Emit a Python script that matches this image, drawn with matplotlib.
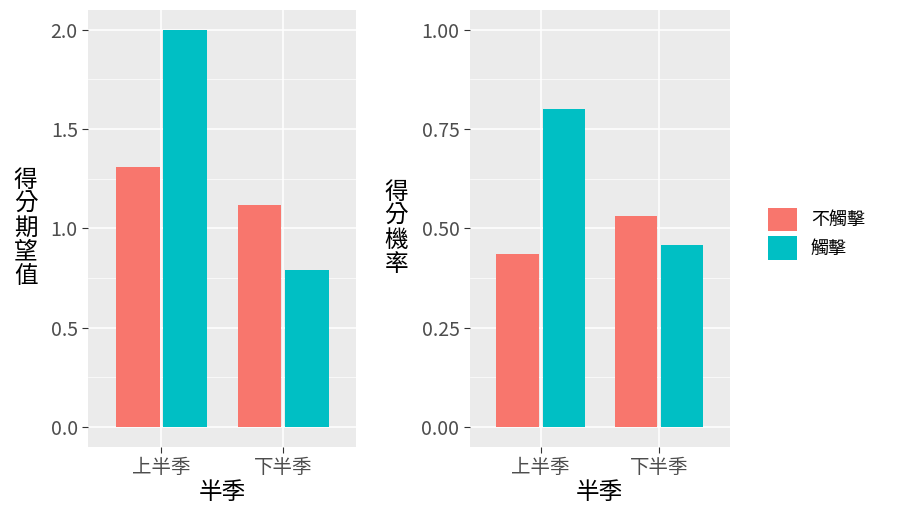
import matplotlib
matplotlib.use("Agg")
import matplotlib.pyplot as plt
import numpy as np

plt.rcParams['font.family'] = ['Noto Sans CJK TC', 'DejaVu Sans']

categories = ["上半季", "下半季"]
groups = ["不觸擊", "觸擊"]
expect_vals = {"不觸擊": [1.31, 1.12], "觸擊": [2.0, 0.79]}
prob_vals = {"不觸擊": [0.435, 0.53], "觸擊": [0.80, 0.457]}
colors = {"不觸擊": "#F8766D", "觸擊": "#00BFC4"}

fig = plt.figure(figsize=(9, 5.25), dpi=100)
ax1 = fig.add_axes([0.098, 0.149, 0.298, 0.832])
ax2 = fig.add_axes([0.522, 0.149, 0.289, 0.832])

def panel(ax, vals, ylim, ticks, fmt, ylabel):
    ax.set_facecolor("#EBEBEB")
    x = np.arange(1, len(categories) + 1)
    w = 0.36
    for i, g in enumerate(groups):
        ax.bar(x + (i - 0.5) * (w + 0.03), vals[g], width=w, color=colors[g],
               zorder=3, label=g)
    ax.set_xlim(0.4, 2.6)
    ax.set_ylim(*ylim)
    ax.set_xticks(x)
    ax.set_xticklabels(categories)
    ax.set_yticks(ticks)
    ax.set_yticklabels([fmt.format(t) for t in ticks])
    minor = [(a + b) / 2 for a, b in zip(ticks[:-1], ticks[1:])]
    ax.set_yticks(minor, minor=True)
    ax.grid(which="major", color="white", linewidth=1.1, zorder=0)
    ax.grid(which="minor", axis="y", color="white", linewidth=0.5, zorder=0)
    for s in ax.spines.values():
        s.set_visible(False)
    ax.tick_params(which="major", colors="#333333", labelcolor="#4D4D4D",
                   labelsize=14, length=4)
    ax.tick_params(which="minor", length=0)
    ax.set_xlabel("半季", fontsize=17, labelpad=2)
    ax.set_ylabel("\n".join(ylabel), fontsize=17, rotation=0,
                  va="center", ha="center", labelpad=18, linespacing=1.05)

panel(ax1, expect_vals, (-0.1, 2.1), [0.0, 0.5, 1.0, 1.5, 2.0], "{:.1f}", "得分期望值")
panel(ax2, prob_vals, (-0.05, 1.05), [0.0, 0.25, 0.5, 0.75, 1.0], "{:.2f}", "得分機率")

h, l = ax2.get_legend_handles_labels()
fig.legend(h, l, loc="center left", bbox_to_anchor=(0.835, 0.555), frameon=False,
           fontsize=13, handlelength=1.6, handleheight=1.6, labelspacing=0.3)

fig.savefig("out.png", dpi=100)
